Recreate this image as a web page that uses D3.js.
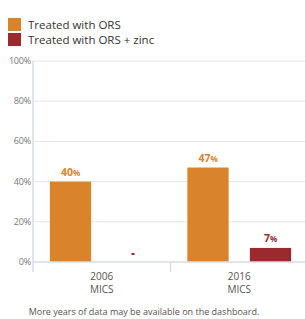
<!DOCTYPE html>
<html>
<head>
<meta charset="utf-8">
<script src="https://cdn.jsdelivr.net/npm/d3@7"></script>
<style>
  body { margin: 0; background: #fff; }
  svg { display: block; font-family: "Open Sans", sans-serif; }
</style>
</head>
<body>
<svg id="chart" width="305" height="319"></svg>
<script>
// data
const years = ["2006", "2016"];
const surveys = ["MICS", "MICS"];
const seriesNames = ["Treated with ORS", "Treated with ORS + zinc"];
const orsValues = [40, 47];
const zincValues = [null, 7];
const yTicks = [0, 20, 40, 60, 80, 100];
const colors = ["#d9842b", "#9b2a2e"];

const svg = d3.select("#chart");
const margin = {top: 61, left: 33, right: -3, bottom: 57};
const width = 305 - margin.left - margin.right;
const height = 319 - margin.top - margin.bottom;

// legend
const legend = svg.append("g");
seriesNames.forEach((name, i) => {
  legend.append("rect")
    .attr("x", 8).attr("y", 18 + i * 15)
    .attr("width", 13).attr("height", 13)
    .attr("fill", colors[i]);
  legend.append("text")
    .attr("x", 28).attr("y", 29 + i * 15)
    .attr("font-size", 11.5).attr("fill", "#333")
    .text(name);
});

const g = svg.append("g").attr("transform", `translate(${margin.left},${margin.top})`);

const x = d3.scaleBand().domain(years).range([0, width]);
const inner = d3.scaleBand().domain([0, 1]).range([0, x.bandwidth()])
  .paddingInner(0.34).paddingOuter(0.27);
const y = d3.scaleLinear().domain([0, 100]).range([height, 0]);

// gridlines
g.selectAll(".grid").data(yTicks.slice(1)).join("line")
  .attr("x1", 0).attr("x2", width)
  .attr("y1", d => y(d)).attr("y2", d => y(d))
  .attr("stroke", "#e6e6e6");

// y axis labels
g.selectAll(".ylab").data(yTicks).join("text")
  .attr("x", -2).attr("y", d => y(d) + 3)
  .attr("text-anchor", "end")
  .attr("font-size", 9).attr("letter-spacing", -0.2).attr("fill", "#777")
  .text(d => d + "%");

// bars
const rows = [];
years.forEach((yr, i) => {
  rows.push({year: yr, s: 0, v: orsValues[i]});
  rows.push({year: yr, s: 1, v: zincValues[i]});
});

const barX = d => x(d.year) + inner(d.s);

g.selectAll(".bar").data(rows.filter(d => d.v != null)).join("rect")
  .attr("x", barX)
  .attr("y", d => y(d.v))
  .attr("width", inner.bandwidth())
  .attr("height", d => y(0) - y(d.v))
  .attr("fill", d => colors[d.s]);

// no-data marker
g.selectAll(".nodata").data(rows.filter(d => d.v == null)).join("rect")
  .attr("x", d => barX(d) + inner.bandwidth() / 2 - 1.5)
  .attr("y", y(0) - 9)
  .attr("width", 3).attr("height", 2)
  .attr("fill", d => colors[d.s]);

// value labels
const lab = g.selectAll(".vlab").data(rows.filter(d => d.v != null)).join("text")
  .attr("x", d => barX(d) + inner.bandwidth() / 2)
  .attr("y", d => y(d.v) - 6)
  .attr("text-anchor", "middle")
  .attr("font-weight", "bold")
  .attr("font-size", 10.5)
  .attr("fill", d => colors[d.s]);
lab.append("tspan").text(d => d.v);
lab.append("tspan").attr("font-size", 8).text("%");

// baseline and axes
g.append("line")
  .attr("x1", 0).attr("x2", width)
  .attr("y1", y(0)).attr("y2", y(0))
  .attr("stroke", "#d9dce9").attr("stroke-width", 1.5);
g.append("line")
  .attr("x1", 0).attr("x2", 0)
  .attr("y1", 0).attr("y2", height + 10)
  .attr("stroke", "#d9dce9").attr("stroke-width", 1.5);
g.selectAll(".sep").data(years.slice(1)).join("line")
  .attr("x1", d => x(d)).attr("x2", d => x(d))
  .attr("y1", height).attr("y2", height + 10)
  .attr("stroke", "#d9dce9").attr("stroke-width", 1.5);

// x labels, two lines each
const xl = g.selectAll(".xlab").data(years).join("g");
xl.append("text")
  .attr("x", d => x(d) + x.bandwidth() / 2).attr("y", height + 18)
  .attr("text-anchor", "middle")
  .attr("font-size", 10).attr("fill", "#555")
  .text(d => d);
xl.append("text")
  .attr("x", d => x(d) + x.bandwidth() / 2).attr("y", height + 31)
  .attr("text-anchor", "middle")
  .attr("font-size", 10).attr("fill", "#555")
  .text((d, i) => surveys[i]);

// footnote
svg.append("text")
  .attr("x", 144).attr("y", 315)
  .attr("text-anchor", "middle")
  .attr("font-size", 9).attr("fill", "#555")
  .text("More years of data may be available on the dashboard.");
</script>
</body>
</html>
